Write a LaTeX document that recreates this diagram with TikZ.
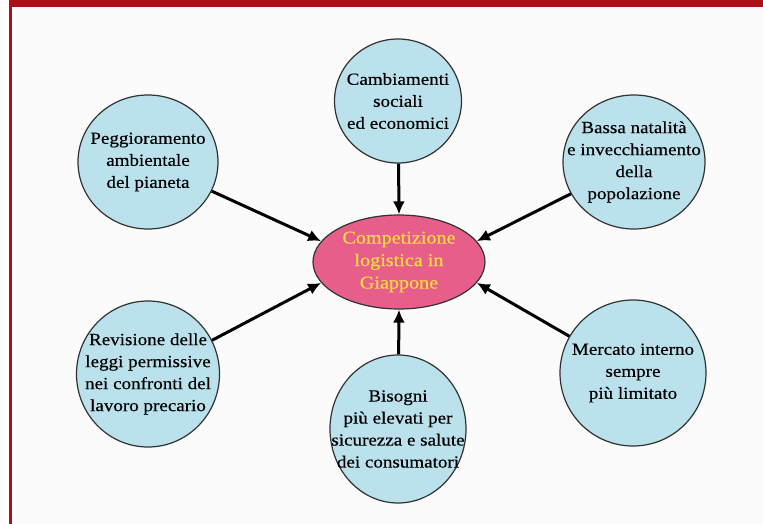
\documentclass[tikz,border=0pt]{standalone}
\usepackage{fontspec}
\setmainfont{Liberation Serif}
\newfontfamily\wideserif[FakeStretch=1.12,FakeBold=0.4]{Liberation Serif}
\usetikzlibrary{shapes.geometric,arrows.meta}
\definecolor{bandred}{RGB}{176,14,24}
\definecolor{bubble}{RGB}{186,225,236}
\definecolor{pinkc}{RGB}{232,94,138}
\definecolor{yelt}{RGB}{246,220,60}
\definecolor{edgegray}{RGB}{50,50,50}
\definecolor{paper}{RGB}{251,251,251}
\begin{document}
\begin{tikzpicture}[x=1pt,y=-1pt,
  bubblenode/.style={ellipse,draw=edgegray,line width=1.2pt,fill=bubble,inner sep=0pt},
  btext/.style={align=center,inner sep=0pt,font=\wideserif\fontsize{17}{22}\selectfont,text=black},
  ctext/.style={align=center,inner sep=0pt,font=\wideserif\fontsize{18}{22.5}\selectfont,text=yelt},
  arr/.style={line width=3pt,-{Latex[length=13pt,width=12pt]}}]
\useasboundingbox (0,0) rectangle (763,524);
\fill[white] (0,0) rectangle (763,524);
\fill[paper] (12,7) rectangle (763,524);
\fill[bandred] (9,0) rectangle (763,7.5);
\fill[bandred] (9,0) rectangle (12,524);

\node[ellipse,draw=edgegray,line width=1.2pt,fill=pinkc,minimum width=172pt,minimum height=94pt,inner sep=0pt] (c) at (399,262) {};
\node[ctext] (ct) at (c) {Competizione\\logistica in\\Giappone};

\node[bubblenode,minimum width=127pt,minimum height=124pt] (top) at (398,101) {};
\node[btext] (topt) at (top) {Cambiamenti\\sociali\\ed economici};

\node[bubblenode,minimum width=140pt,minimum height=134pt] (tl) at (148,162) {};
\node[btext] (tlt) at (tl) {Peggioramento\\ambientale\\del pianeta};

\node[bubblenode,minimum width=142pt,minimum height=134pt] (tr) at (634,162) {};
\node[btext] (trt) at (tr) {Bassa natalità\\e invecchiamento\\della\\popolazione};

\node[bubblenode,minimum width=143pt,minimum height=146pt] (bl) at (148,374) {};
\node[btext] (blt) at (bl) {Revisione delle\\leggi permissive\\nei confronti del\\lavoro precario};

\node[bubblenode,minimum width=136pt,minimum height=148pt] (bot) at (398,429) {};
\node[btext] (bott) at (bot) {Bisogni\\più elevati per\\sicurezza e salute\\dei consumatori};

\node[bubblenode,minimum width=146pt,minimum height=146pt] (br) at (633,373) {};
\node[btext] (brt) at (br) {Mercato interno\\sempre\\più limitato};

\draw[arr] (top) -- (c.north);
\draw[arr] (bot) -- (c.south);
\draw[arr] (tl) -- (c.165);
\draw[arr] (tr) -- (c.15);
\draw[arr] (bl) -- (c.195);
\draw[arr] (br) -- (c.-15);
\end{tikzpicture}
\end{document}
